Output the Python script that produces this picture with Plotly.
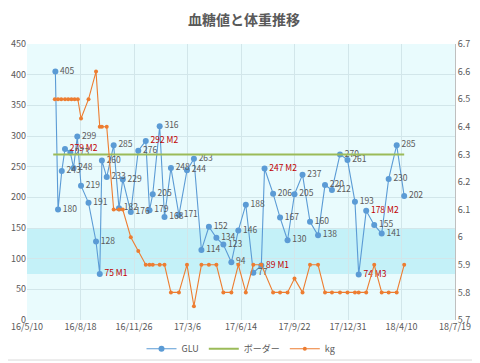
import plotly.graph_objects as go

glu_dates = ["2016-07-02","2016-07-07","2016-07-14","2016-07-20","2016-07-30","2016-08-05","2016-08-12","2016-08-19",
             "2016-09-02","2016-09-16","2016-09-23","2016-09-27","2016-10-06","2016-10-19","2016-10-29","2016-11-05",
             "2016-11-20","2016-12-04","2016-12-18","2016-12-25","2016-12-31","2017-01-13","2017-01-22","2017-02-03",
             "2017-02-18","2017-03-05","2017-03-18","2017-04-01","2017-04-15","2017-04-29","2017-05-12","2017-05-27",
             "2017-06-09","2017-06-23","2017-07-07","2017-07-22","2017-07-28","2017-08-13","2017-08-26","2017-09-09",
             "2017-09-22","2017-10-07","2017-10-21","2017-11-05","2017-11-18","2017-12-01","2017-12-16","2017-12-30",
             "2018-01-13","2018-01-20","2018-02-03","2018-02-18","2018-03-04","2018-03-17","2018-04-01","2018-04-15"]
glu_values = [405,180,243,279,273,248,299,219,
              191,128,75,260,233,285,182,229,
              176,276,292,179,205,316,168,248,
              171,244,263,114,152,134,123,94,
              146,188,77,89,247,206,167,130,
              205,237,160,138,220,212,270,261,
              193,74,178,155,141,230,285,202]
glu_notes = ["","","","M2","","","","",
             "","","M1","","","","","",
             "","","M2","","","","","",
             "","","","","","","","",
             "","","","M1","M2","","","",
             "","","","","","","","",
             "","M3","M2","","","","",""]

kg_dates = ["2016-07-01","2016-07-07","2016-07-13","2016-07-20","2016-07-26","2016-08-01","2016-08-07","2016-08-13",
            "2016-08-19","2016-09-02","2016-09-16","2016-09-23","2016-09-27","2016-10-06","2016-10-19","2016-10-29",
            "2016-11-05","2016-11-20","2016-12-04","2016-12-18","2016-12-25","2016-12-31","2017-01-13","2017-01-22",
            "2017-02-03","2017-02-18","2017-03-05","2017-03-18","2017-04-01","2017-04-15","2017-04-29","2017-05-12",
            "2017-05-27","2017-06-09","2017-06-23","2017-07-07","2017-07-22","2017-08-13","2017-08-26","2017-09-09",
            "2017-09-22","2017-10-07","2017-10-21","2017-11-05","2017-11-18","2017-12-01","2017-12-16","2017-12-30",
            "2018-01-13","2018-01-20","2018-02-03","2018-02-18","2018-03-04","2018-03-17","2018-04-01","2018-04-15"]
kg_values = [6.5,6.5,6.5,6.5,6.5,6.5,6.5,6.5,
             6.43,6.5,6.6,6.4,6.4,6.4,6.1,6.1,
             6.1,6.0,5.95,5.9,5.9,5.9,5.9,5.9,
             5.8,5.8,5.9,5.75,5.9,5.9,5.9,5.8,
             5.8,5.9,5.8,5.9,5.9,5.8,5.8,5.8,
             5.85,5.8,5.9,5.9,5.8,5.8,5.8,5.8,
             5.8,5.8,5.8,5.9,5.8,5.8,5.8,5.9]

border_dates = ["2016-06-28", "2018-04-15"]
border_values = [270, 270]
band_range = [75, 150]

x_range = ["2016-05-10", "2018-07-19"]
y_range = [0, 450]
y2_range = [5.7, 6.7]

title = "血糖値と体重推移"
FONT = "Noto Sans CJK JP, sans-serif"
GRAY = "#595959"

labels = [f"{v} {n}" if n else str(v) for v, n in zip(glu_values, glu_notes)]
label_colors = ["#c00000" if n else GRAY for n in glu_notes]

fig = go.Figure()

fig.add_trace(go.Scatter(
    x=glu_dates, y=glu_values, name="GLU", mode="lines+markers+text",
    line=dict(color="#5b9bd5", width=1.1),
    marker=dict(color="#5b9bd5", size=6),
    text=labels, textposition="middle right",
    textfont=dict(size=8.5, color=label_colors, family=FONT),
    cliponaxis=False,
))
fig.add_trace(go.Scatter(
    x=border_dates, y=border_values, name="ボーダー", mode="lines",
    line=dict(color="#9bbb59", width=2),
))
fig.add_trace(go.Scatter(
    x=kg_dates, y=kg_values, name="kg", mode="lines+markers", yaxis="y2",
    line=dict(color="#ed7d31", width=1.1),
    marker=dict(color="#ed7d31", size=4),
))

fig.add_shape(type="rect", xref="paper", yref="y", x0=0, x1=1,
              y0=band_range[0], y1=band_range[1],
              fillcolor="#c4f1f8", line=dict(width=0), layer="below")
fig.add_shape(type="rect", xref="paper", yref="paper",
              x0=-0.058, x1=1.052, y0=-0.145, y1=1.152,
              line=dict(color="#d9d9d9", width=1), fillcolor="rgba(0,0,0,0)")

fig.update_layout(
    width=472, height=355,
    margin=dict(l=19, r=25, t=36, b=43, autoexpand=False),
    paper_bgcolor="white", plot_bgcolor="#e9fbfd",
    font=dict(family=FONT, size=9, color=GRAY),
    title=dict(text=title, x=0.5, xanchor="center", y=0.966, yanchor="middle",
               font=dict(size=14, color=GRAY, family=FONT, weight="bold")),
    showlegend=True,
    legend=dict(orientation="h", x=0.5, xanchor="center", xref="paper",
                y=0.04, yanchor="middle", yref="container",
                font=dict(size=9, color=GRAY, family=FONT), bgcolor="rgba(0,0,0,0)"),
    xaxis=dict(type="date", range=x_range, tick0="2016-05-10", dtick=100 * 86400000,
               tickformat="%y/%-m/%-d", showgrid=True, gridcolor="#d2e6ea", gridwidth=1,
               zeroline=False, showline=False, ticks="", automargin=False,
               tickfont=dict(size=9, color=GRAY)),
    yaxis=dict(range=y_range, dtick=50, showgrid=True, gridcolor="#d2e6ea", gridwidth=1,
               zeroline=False, showline=False, ticks="", automargin=False,
               tickfont=dict(size=9, color=GRAY)),
    yaxis2=dict(range=y2_range, dtick=0.1, overlaying="y", side="right", showgrid=False,
                zeroline=False, showline=True, linecolor="#bfbfbf", ticks="",
                tickformat=".1~f", automargin=False,
                tickfont=dict(size=9, color=GRAY)),
)

fig.write_html("out.html")
